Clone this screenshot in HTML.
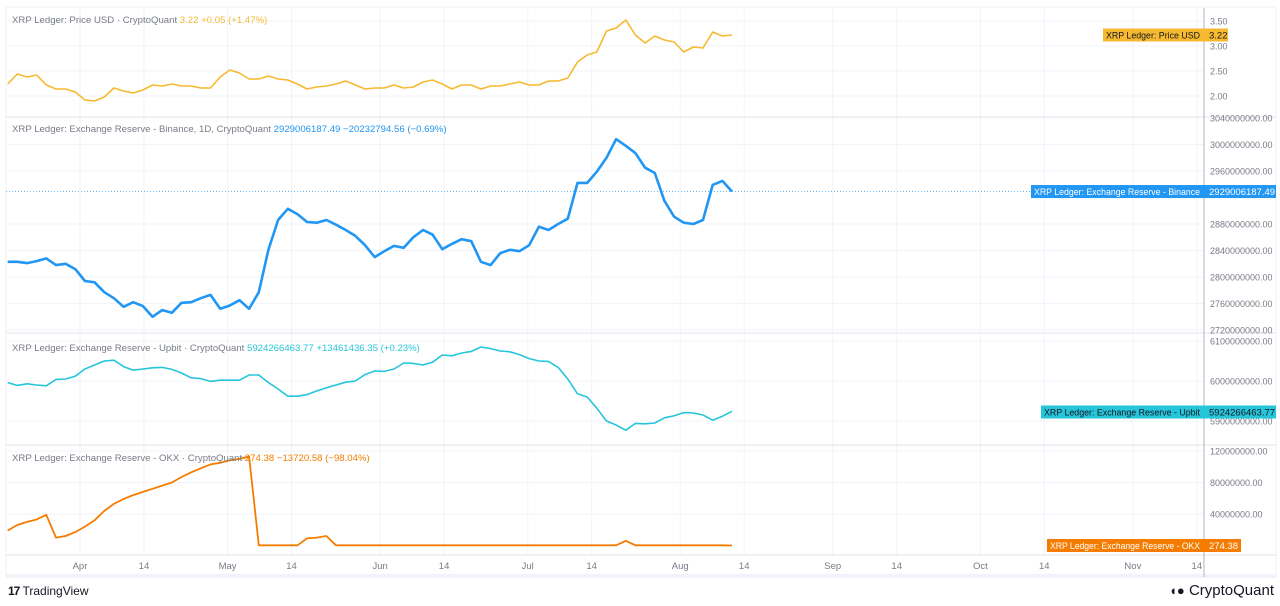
<!DOCTYPE html>
<html><head><meta charset="utf-8"><style>
html,body{margin:0;padding:0;background:#fff;}
svg{display:block;font-family:"Liberation Sans",sans-serif;}
</style></head><body>
<svg id="chart" width="1280" height="606" viewBox="0 0 1280 606">
<g id="grid"></g>
<g id="series"></g>
<g id="frame"></g>
<g id="labels"></g>
</svg>
<script>
// ---- data (sampled roughly every 2 days starting mid-March) ----
const sampleStartDay = -14.7;   // days relative to Apr 1
const sampleStepDays = 1.963;
const priceUsd = [2.24,2.44,2.38,2.42,2.22,2.14,2.14,2.08,1.92,1.90,1.98,2.16,2.10,2.06,2.12,2.22,2.20,2.24,2.20,2.20,2.16,2.16,2.38,2.52,2.46,2.34,2.34,2.40,2.34,2.32,2.24,2.14,2.18,2.20,2.24,2.30,2.22,2.14,2.16,2.16,2.22,2.16,2.18,2.28,2.32,2.24,2.14,2.22,2.22,2.14,2.20,2.20,2.24,2.28,2.22,2.22,2.30,2.30,2.36,2.68,2.82,2.88,3.30,3.36,3.52,3.22,3.06,3.20,3.12,3.08,2.88,2.98,2.96,3.28,3.20,3.22];
const binanceReserveM = [2823,2823,2821,2824,2828,2818,2820,2812,2794,2792,2777,2768,2755,2762,2756,2740,2750,2746,2761,2762,2768,2773,2752,2757,2765,2752,2777,2841,2886,2903,2895,2883,2882,2886,2879,2871,2862,2848,2830,2839,2847,2844,2860,2871,2864,2842,2850,2857,2854,2823,2818,2836,2841,2839,2848,2876,2871,2880,2888,2942,2942,2959,2980,3008,2998,2987,2965,2957,2915,2891,2882,2880,2886,2939,2945,2929];
const upbitReserveM = [5996,5989,5993,5990,5988,6004,6005,6012,6030,6040,6050,6052,6036,6027,6030,6033,6034,6029,6020,6008,6006,5999,6002,6002,6002,6015,6015,5996,5980,5962,5962,5966,5975,5983,5990,5997,6000,6016,6025,6024,6030,6045,6044,6040,6047,6065,6063,6070,6074,6085,6081,6075,6073,6066,6056,6050,6049,6034,6005,5968,5960,5932,5900,5890,5877,5894,5893,5895,5908,5913,5921,5920,5915,5902,5912,5924];
const okxReserveM = [19,26,30,33,39,10,12,17,24,32,44,53,59,64,68,72,76,80,87,93,98,103,105,108,110,113,0.3,0.3,0.3,0.3,0.3,9,10,12,0.3,0.3,0.3,0.3,0.3,0.3,0.3,0.3,0.3,0.3,0.3,0.3,0.3,0.3,0.3,0.3,0.3,0.3,0.3,0.3,0.3,0.3,0.3,0.3,0.3,0.3,0.3,0.3,0.3,0.3,6,0.3,0.3,0.3,0.3,0.3,0.3,0.3,0.3,0.3,0.3,0.0003];
const timeTickLabels = ["Apr","14","May","14","Jun","14","Jul","14","Aug","14","Sep","14","Oct","14","Nov","14"];
const timeTickDays = [0,13,30,43,61,74,91,104,122,135,153,166,183,196,214,227];
const priceTicks = [3.5,3.0,2.5,2.0];
const binanceTicks = [3040,3000,2960,2880,2840,2800,2760,2720];
const upbitTicks = [6100,6000,5900];
const okxTicks = [120,80,40];

// ---- scales ----
const AX = 1204;
function xDay(d){return 80 + d*4.92;}
function xIdx(i){return xDay(sampleStartDay + i*sampleStepDays);}
const yPrice = v => 21 + (3.5 - v)*50;
const yBin = v => 118 + (3040 - v)*26.5/40;
const yUp = v => 341 + (6100 - v)*0.4;
const yOkx = v => 451 + (120 - v)*31.5/40;

const NS="http://www.w3.org/2000/svg";
function mk(tag, attrs, parent, txt){
  const e=document.createElementNS(NS,tag);
  for(const k in attrs) e.setAttribute(k,attrs[k]);
  if(txt!==undefined) e.textContent=txt;
  parent.appendChild(e); return e;
}
const grid=document.getElementById('grid'), series=document.getElementById('series'),
      frame=document.getElementById('frame'), labels=document.getElementById('labels');

let r=mk('rect',{x:6,y:7,width:1270,height:570,fill:'#fff',stroke:'#eef0f5','stroke-width':1},grid);



timeTickDays.forEach((d,i)=>{
  const x=xDay(d);
  const l=mk('line',{x1:x,x2:x,y1:8,y2:555,stroke:'#f0f3fa','stroke-width':1},grid);
  
  
  const t=mk('text',{x:x,y:569,'font-size':9.5,fill:'#787b86','text-anchor':'middle'},labels,timeTickLabels[i]);
  
  
});

function yTicks(ticks, yf, fmt, top, bottom){
  ticks.forEach(v=>{
    const y=yf(v);
    if(y>top+2 && y<bottom-2){
      const l=mk('line',{x1:6,x2:AX,y1:y,y2:y,stroke:'#f0f3fa','stroke-width':1},grid);
      
      
    }
    const t=mk('text',{x:AX+6,y:y+3.5,'font-size':9,fill:'#787b86'},labels,fmt(v));
    
    
  });
}
yTicks(priceTicks,yPrice,v=>v.toFixed(2),8,117);
yTicks(binanceTicks,yBin,v=>v+'000000.00',117,333);
yTicks(upbitTicks,yUp,v=>v+'000000.00',333,445);
yTicks(okxTicks,yOkx,v=>v+'000000.00',445,555);

[117,333,445,555].forEach(y=>{
  const l=mk('line',{x1:6,x2:1276,y1:y,y2:y,stroke:'#e0e3eb','stroke-width':1},frame);
  
  
});
let bb=mk('rect',{x:6,y:574,width:1270,height:4,fill:'#f0f3fa'},frame);


let ax=mk('line',{x1:AX,x2:AX,y1:8,y2:577,stroke:'#b2b5be','stroke-width':1},frame);



const lastBinY=yBin(binanceReserveM[binanceReserveM.length-1]);
let dl=mk('line',{x1:6,x2:AX,y1:lastBinY,y2:lastBinY,stroke:'#2196f3','stroke-width':1,'stroke-dasharray':'1 2',opacity:0.7},grid);



function line(arr, yf, color, w, name){
  const d=arr.map((v,i)=>(i?'L':'M')+xIdx(i).toFixed(1)+' '+yf(v).toFixed(1)).join(' ');
  const p=mk('path',{d:d,fill:'none',stroke:color,'stroke-width':w,'stroke-linejoin':'round'},series);
  
  
}
line(priceUsd,yPrice,'#f7b92f',1.6,'price-usd-line');
line(binanceReserveM,yBin,'#2196f3',2.6,'binance-reserve-line');
line(upbitReserveM,yUp,'#26c6da',1.6,'upbit-reserve-line');
line(okxReserveM,yOkx,'#f57c00',1.8,'okx-reserve-line');

function legend(y, title, vals, color, name){
  const t=mk('text',{x:12,y:y,'font-size':9.6,fill:'#787b86'},labels);
  
  
  mk('tspan',{},t,title+'  ');
  mk('tspan',{fill:color},t,vals);
}
legend(23,'XRP Ledger: Price USD · CryptoQuant','3.22  +0.05 (+1.47%)','#f7b92f','price-legend');
legend(132,'XRP Ledger: Exchange Reserve - Binance, 1D, CryptoQuant','2929006187.49  −20232794.56 (−0.69%)','#2196f3','binance-legend');
legend(351,'XRP Ledger: Exchange Reserve - Upbit · CryptoQuant','5924266463.77  +13461436.35 (+0.23%)','#26c6da','upbit-legend');
legend(461,'XRP Ledger: Exchange Reserve - OKX · CryptoQuant','274.38  −13720.58 (−98.04%)','#f57c00','okx-legend');

function tag(y, left, valRight, title, val, color, txtColor, name){
  const g=mk('g',{},labels);
  
  
  mk('rect',{x:left,y:y-6.5,width:AX-left,height:13,fill:color},g);
  mk('rect',{x:AX,y:y-6.5,width:valRight-AX,height:13,fill:color},g);
  mk('text',{x:AX-4,y:y+3.3,'font-size':9,fill:txtColor,'text-anchor':'end',textLength:AX-left-7,lengthAdjust:'spacingAndGlyphs'},g,title);
  mk('text',{x:AX+5,y:y+3.3,'font-size':9.5,fill:txtColor},g,val);
}
tag(yPrice(priceUsd[priceUsd.length-1]),1103,1228,'XRP Ledger: Price USD','3.22','#f7b92f','#131722','price-last-tag');
tag(lastBinY,1031,1276,'XRP Ledger: Exchange Reserve - Binance','2929006187.49','#2196f3','#fff','binance-last-tag');
tag(412,1041,1276,'XRP Ledger: Exchange Reserve - Upbit','5924266463.77','#26c6da','#131722','upbit-last-tag');
tag(545.5,1047,1241,'XRP Ledger: Exchange Reserve - OKX','274.38','#f57c00','#fff','okx-last-tag');
</script>
<div style="position:absolute;left:8px;top:584px;font:12px 'Liberation Sans',sans-serif;color:#131722"><b style="font-size:12px;letter-spacing:-1px">17</b> TradingView</div>
<div style="position:absolute;right:6px;top:582px;font:15px 'Liberation Sans',sans-serif;color:#131722"><span style="font-size:13px">◖●</span> CryptoQuant</div>
</body></html>
